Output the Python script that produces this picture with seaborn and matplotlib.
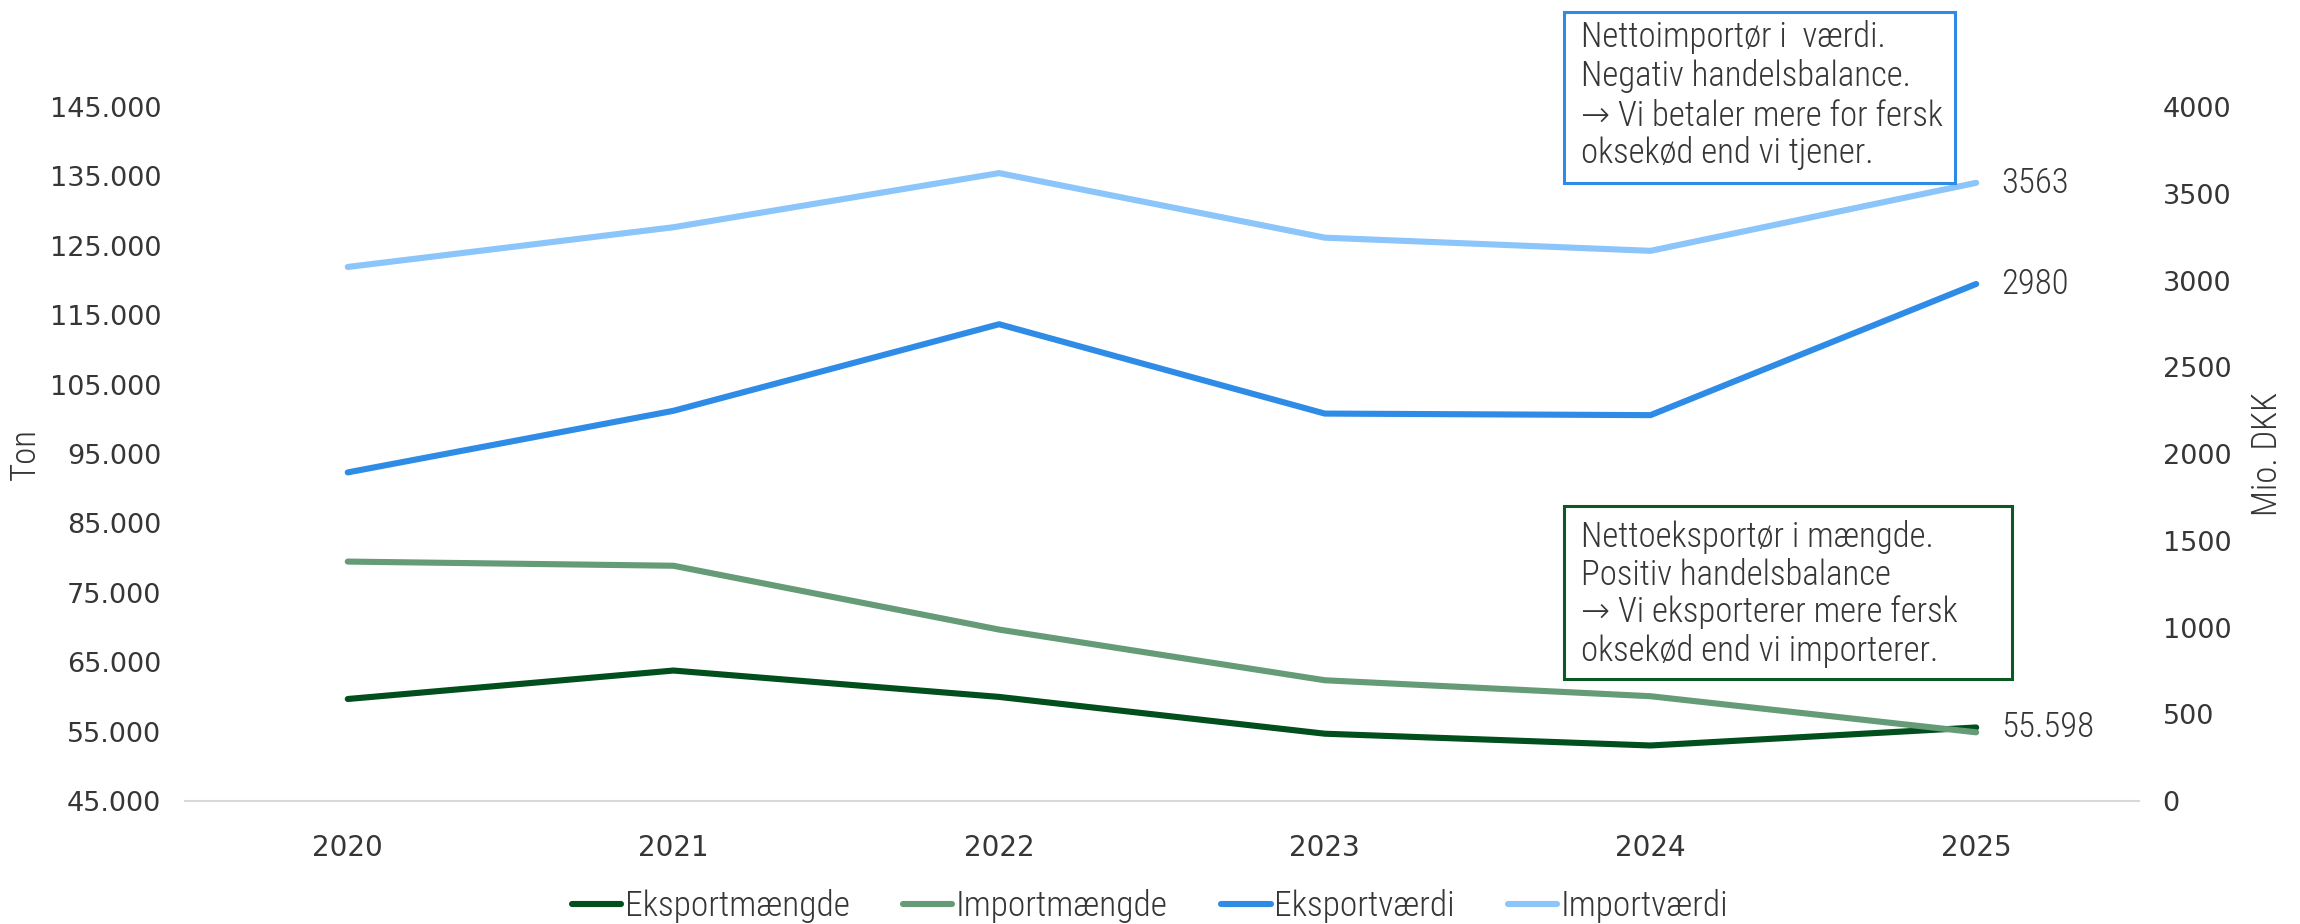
import pandas as pd
import matplotlib.pyplot as plt
import seaborn as sns
from matplotlib.patches import Rectangle
from matplotlib.ticker import FuncFormatter, FixedLocator

# data
years = [2020, 2021, 2022, 2023, 2024, 2025]
eksport_maengde = [59700, 63800, 60000, 54700, 53000, 55598]
import_maengde = [79500, 78900, 69700, 62400, 60100, 54900]
eksport_vaerdi = [1894, 2249, 2748, 2233, 2224, 2980]
import_vaerdi = [3078, 3307, 3619, 3247, 3171, 3563]

ton_ticks = list(range(45000, 145001, 10000))
dkk_ticks = list(range(0, 4001, 500))

serie_ton = ["Eksportmængde", "Importmængde"]
serie_dkk = ["Eksportværdi", "Importværdi"]
farver = {
    "Eksportmængde": "#004F1C",
    "Importmængde": "#659B77",
    "Eksportværdi": "#2E8CE6",
    "Importværdi": "#8BC5F9",
}

TEXT = "#363636"
NARROW = ["Roboto Condensed", "Open Sans Condensed", "DejaVu Sans"]
NARROW_KW = dict(family=NARROW, fontsize=25, color=TEXT, fontweight="light")

sns.set_theme(style="white")
plt.rcParams["font.family"] = ["DejaVu Sans"]

df_ton = pd.DataFrame({
    "År": years * 2,
    "Ton": eksport_maengde + import_maengde,
    "Serie": [serie_ton[0]] * len(years) + [serie_ton[1]] * len(years),
})
df_dkk = pd.DataFrame({
    "År": years * 2,
    "Mio. DKK": eksport_vaerdi + import_vaerdi,
    "Serie": [serie_dkk[0]] * len(years) + [serie_dkk[1]] * len(years),
})

fig = plt.figure(figsize=(23, 9.24), dpi=100)
ax = fig.add_axes([0.0804, 0.1331, 0.8496, 0.7511])
ax2 = ax.twinx()

sns.lineplot(data=df_ton, x="År", y="Ton", hue="Serie", hue_order=serie_ton,
             palette=farver, linewidth=4.4, ax=ax)
sns.lineplot(data=df_dkk, x="År", y="Mio. DKK", hue="Serie", hue_order=serie_dkk,
             palette=farver, linewidth=4.4, ax=ax2)

h1, l1 = ax.get_legend_handles_labels()
h2, l2 = ax2.get_legend_handles_labels()
ax.get_legend().remove()
ax2.get_legend().remove()

ax.set_xlim(years[0] - 0.5, years[-1] + 0.5)
ax.set_xticks(years)
ax.set_ylim(ton_ticks[0], ton_ticks[-1])
ax.yaxis.set_major_locator(FixedLocator(ton_ticks))
ax.yaxis.set_major_formatter(FuncFormatter(lambda v, p: f"{int(v):,}".replace(",", ".")))
ax2.set_ylim(dkk_ticks[0], dkk_ticks[-1])
ax2.yaxis.set_major_locator(FixedLocator(dkk_ticks))

for a in (ax, ax2):
    for s in a.spines.values():
        s.set_visible(False)
    a.tick_params(length=0, labelsize=19.5, labelcolor=TEXT)
ax.spines["bottom"].set_visible(True)
ax.spines["bottom"].set_color("#D9D9D9")
ax.spines["bottom"].set_linewidth(1.5)
ax.tick_params(axis="x", pad=24, labelsize=20)
ax.tick_params(axis="y", pad=17)
ax2.tick_params(axis="y", pad=17)

ax.set_xlabel("")
ax.set_ylabel("Ton", **NARROW_KW)
ax.yaxis.set_label_coords(-0.073, 0.5)
ax2.set_ylabel("Mio. DKK", rotation=90, **NARROW_KW)
ax2.yaxis.set_label_coords(1.057, 0.5)

# end labels
for a, vals, lab in [(ax2, import_vaerdi, str(import_vaerdi[-1])),
                     (ax2, eksport_vaerdi, str(eksport_vaerdi[-1])),
                     (ax, eksport_maengde, f"{eksport_maengde[-1]:,}".replace(",", "."))]:
    a.annotate(lab, xy=(years[-1], vals[-1]), xytext=(18, 0), textcoords="offset points",
               va="center", ha="left", **NARROW_KW)

# annotation boxes
W, H = 2300, 924
bokse = [
    ((1564, 12, 1955, 183), "#2E8CE6",
     ["Nettoimportør i  værdi.", "Negativ handelsbalance.",
      "\u2192 Vi betaler mere for fersk", "oksekød end vi tjener."], [37, 76, 116, 153]),
    ((1564, 506, 2012, 679), "#0B5A26",
     ["Nettoeksportør i mængde.", "Positiv handelsbalance",
      "\u2192 Vi eksporterer mere fersk", "oksekød end vi importerer."], [537, 575, 612, 651]),
]
for (x0, y0, x1, y1), col, lines, ys in bokse:
    fig.patches.append(Rectangle((x0 / W, 1 - y1 / H), (x1 - x0) / W, (y1 - y0) / H,
                                 transform=fig.transFigure, fill=True, facecolor="white",
                                 edgecolor=col, linewidth=2.2, zorder=5))
    for line, yy in zip(lines, ys):
        fig.text((x0 + 17) / W, 1 - yy / H, line, va="center", ha="left", zorder=6, **NARROW_KW)

fig.legend(h1 + h2, l1 + l2, loc="center", bbox_to_anchor=(0.5, 0.0195), ncol=4,
           frameon=False, prop={"family": NARROW, "size": 25.5, "weight": "light"},
           labelcolor=TEXT, handlelength=1.4, handletextpad=0.1, columnspacing=1.5)

plt.savefig("out.png", dpi=100)
